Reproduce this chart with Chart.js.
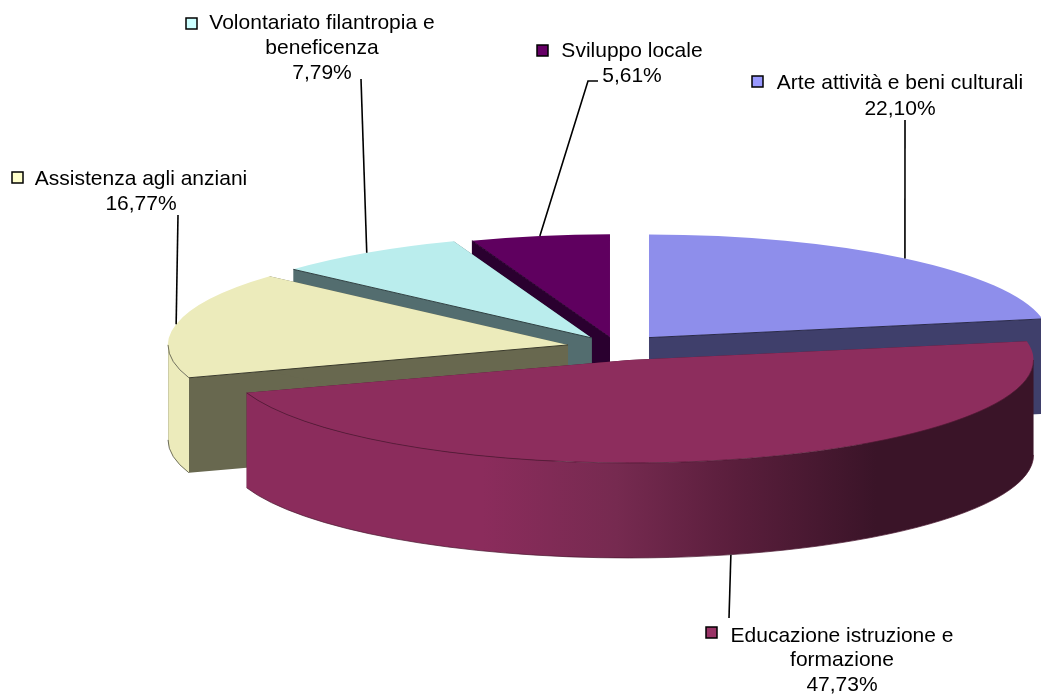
<!DOCTYPE html>
<html lang="it">
<head>
<meta charset="utf-8">
<title>Ripartizione per settore</title>
<script src="https://cdn.jsdelivr.net/npm/chart.js@4/dist/chart.umd.min.js"></script>
<style>
    html, body { margin: 0; padding: 0; background: #fff; }
    canvas { display: block; }
</style>
</head>
<body>
<canvas id="pieChart" width="1041" height="695"></canvas>
<script>
//-- data, clockwise from 12 o'clock --
const categories = ["Arte attività e beni culturali", "Educazione istruzione e formazione", "Assistenza agli anziani", "Volontariato filantropia e beneficenza", "Sviluppo locale"];
const labelLines = [["Arte attività e beni culturali"], ["Educazione istruzione e", "formazione"], ["Assistenza agli anziani"], ["Volontariato filantropia e", "beneficenza"], ["Sviluppo locale"]];
const shares = [22.10, 47.73, 16.77, 7.79, 5.61];

//-- colours --
const topColors = ["#8E8EEB", "#8D2D5D", "#ECEBBB", "#BAEDED", "#5F005F"];
const cutColors = ["#3F3F6B", "#4A1830", "#68684F", "#536D6F", "#2A002F"];
const edgeColors = ["#2A2A4A", "#4A1830", "#3A3A2C", "#2F4042", "#2A002F"];
const keyColors = ["#9999FF", "#993366", "#FFFFCC", "#CCFFFF", "#660066"];
const wallStops = [
    null,
    [[0, "#8B2C5C"], [0.3, "#8B2C5C"], [0.47, "#762A50"], [0.62, "#5A1E3C"], [0.8, "#3A1428"], [1, "#3A1428"]],
    [[0, "#A9A98E"], [0.012, "#A9A98E"], [0.03, "#E4E3B4"], [0.06, "#ECEBBB"], [1, "#ECEBBB"]],
    null,
    null
];

//-- 3D look of the pie --
const SQUASH = 0.2575;
const DEPTH = 95;
const RADIUS = 400;
const explode = [50, 50, 50, 45, 40];
const widen = [0, 4, 0, 0, 0]; //-- the front slice looks a bit wider --
const drawOrder = [4, 3, 0, 2, 1]; //-- back to front --

//-- label boxes: centre of text, first line y, key position, leader start --
const labelBoxes = [
    { cx: 900, y: 83, step: 26, keyX: 752, keyY: 76, from: [[905, 120]] },
    { cx: 842, y: 636, step: 24.5, keyX: 706, keyY: 627, from: [[729, 618]], wall: true },
    { cx: 141, y: 179, step: 25, keyX: 12, keyY: 172, from: [[178, 215]] },
    { cx: 322, y: 23, step: 25, keyX: 186, keyY: 18, from: [[361, 79]] },
    { cx: 632, y: 51, step: 25, keyX: 537, keyY: 45, from: [[598, 81], [588, 81]] }
];

//-- where a slice sits once pulled out of the pie --
function sliceGeometry(arc, i) {
    const mid = (arc.startAngle + arc.endAngle) / 2;
    return {
        mid,
        x: arc.x + Math.cos(mid) * explode[i],
        y: arc.y + Math.sin(mid) * explode[i] * SQUASH,
        rx: arc.outerRadius + widen[i],
        ry: arc.outerRadius * SQUASH
    };
}

function drawSlice(ctx, arc, i) {
    const g = sliceGeometry(arc, i);

    //-- the two cut faces --
    ctx.fillStyle = cutColors[i];
    [arc.startAngle, arc.endAngle].forEach(angle => {
        const px = g.x + Math.cos(angle) * g.rx;
        const py = g.y + Math.sin(angle) * g.ry;
        ctx.beginPath();
        ctx.moveTo(g.x, g.y);
        ctx.lineTo(px, py);
        ctx.lineTo(px, py + DEPTH);
        ctx.lineTo(g.x, g.y + DEPTH);
        ctx.closePath();
        ctx.fill();
    });

    //-- curved wall, only the part that faces the viewer --
    const from = Math.max(arc.startAngle, 0);
    const to = Math.min(arc.endAngle, Math.PI);
    const hasWall = wallStops[i] && to > from;
    if (hasWall) {
        const left = g.x + Math.cos(to) * g.rx;
        const right = g.x + Math.cos(from) * g.rx;
        const grad = ctx.createLinearGradient(left, 0, right, 0);
        wallStops[i].forEach(([pos, color]) => grad.addColorStop(pos, color));
        ctx.fillStyle = grad;
        ctx.beginPath();
        ctx.ellipse(g.x, g.y, g.rx, g.ry, 0, from, to);
        ctx.ellipse(g.x, g.y + DEPTH, g.rx, g.ry, 0, to, from, true);
        ctx.closePath();
        ctx.fill();
    }

    //-- top face is the library's own arc, squashed --
    ctx.save();
    ctx.translate(g.x, g.y);
    ctx.scale(g.rx / arc.outerRadius, SQUASH);
    ctx.translate(-arc.x, -arc.y);
    arc.draw(ctx);
    ctx.restore();

    //-- thin dark edges, only where a cut face shows below the top --
    ctx.strokeStyle = edgeColors[i];
    ctx.lineWidth = 1;
    const visibleCuts = [];
    if (Math.cos(arc.startAngle) < -0.01) visibleCuts.push(arc.startAngle);
    if (Math.cos(arc.endAngle) > 0.01) visibleCuts.push(arc.endAngle);
    visibleCuts.forEach(angle => {
        ctx.beginPath();
        ctx.moveTo(g.x, g.y);
        ctx.lineTo(g.x + Math.cos(angle) * g.rx, g.y + Math.sin(angle) * g.ry);
        ctx.stroke();
    });
    if (hasWall) {
        ctx.globalAlpha = 0.7;
        ctx.beginPath();
        ctx.ellipse(g.x, g.y, g.rx, g.ry, 0, from, to);
        ctx.stroke();
        ctx.beginPath();
        ctx.ellipse(g.x, g.y + DEPTH, g.rx, g.ry, 0, from, to);
        ctx.stroke();
        ctx.globalAlpha = 1;
    }
}

function drawLabel(ctx, arc, i) {
    const box = labelBoxes[i];
    const g = sliceGeometry(arc, i);

    //-- leader goes from the text to the rim at the middle of the slice --
    const endX = g.x + Math.cos(g.mid) * g.rx;
    const endY = g.y + Math.sin(g.mid) * g.ry + (box.wall ? DEPTH : 0);
    ctx.strokeStyle = "#000";
    ctx.lineWidth = 1.6;
    ctx.beginPath();
    box.from.forEach(([x, y], n) => n ? ctx.lineTo(x, y) : ctx.moveTo(x, y));
    ctx.lineTo(endX, endY);
    ctx.stroke();

    //-- key square --
    ctx.fillStyle = keyColors[i];
    ctx.strokeStyle = "#000";
    ctx.lineWidth = 1.5;
    ctx.fillRect(box.keyX, box.keyY, 11, 11);
    ctx.strokeRect(box.keyX, box.keyY, 11, 11);

    //-- text, last line is the share --
    ctx.fillStyle = "#000";
    ctx.font = "21px 'Liberation Sans'";
    ctx.textAlign = "center";
    ctx.textBaseline = "middle";
    const lines = labelLines[i].concat(shares[i].toFixed(2).replace(".", ",") + "%");
    lines.forEach((line, n) => ctx.fillText(line, box.cx, box.y + n * box.step));
}

const pie3dPlugin = {
    id: "pie3d",
    beforeDatasetDraw(chart, args) {
        const arcs = args.meta.data;
        drawOrder.forEach(i => drawSlice(chart.ctx, arcs[i], i));
        return false; //-- slices are painted here, skip the flat pie --
    },
    afterDraw(chart) {
        const arcs = chart.getDatasetMeta(0).data;
        arcs.forEach((arc, i) => drawLabel(chart.ctx, arc, i));
    }
};

new Chart(document.getElementById("pieChart").getContext("2d"), {
    type: "pie",
    data: {
        labels: categories,
        datasets: [{ data: shares, backgroundColor: topColors, borderWidth: 0 }]
    },
    options: {
        responsive: false,
        animation: false,
        radius: RADIUS,
        layout: { padding: { left: 193 } },
        plugins: { legend: { display: false }, tooltip: { enabled: false } }
    },
    plugins: [pie3dPlugin]
});
</script>
</body>
</html>
